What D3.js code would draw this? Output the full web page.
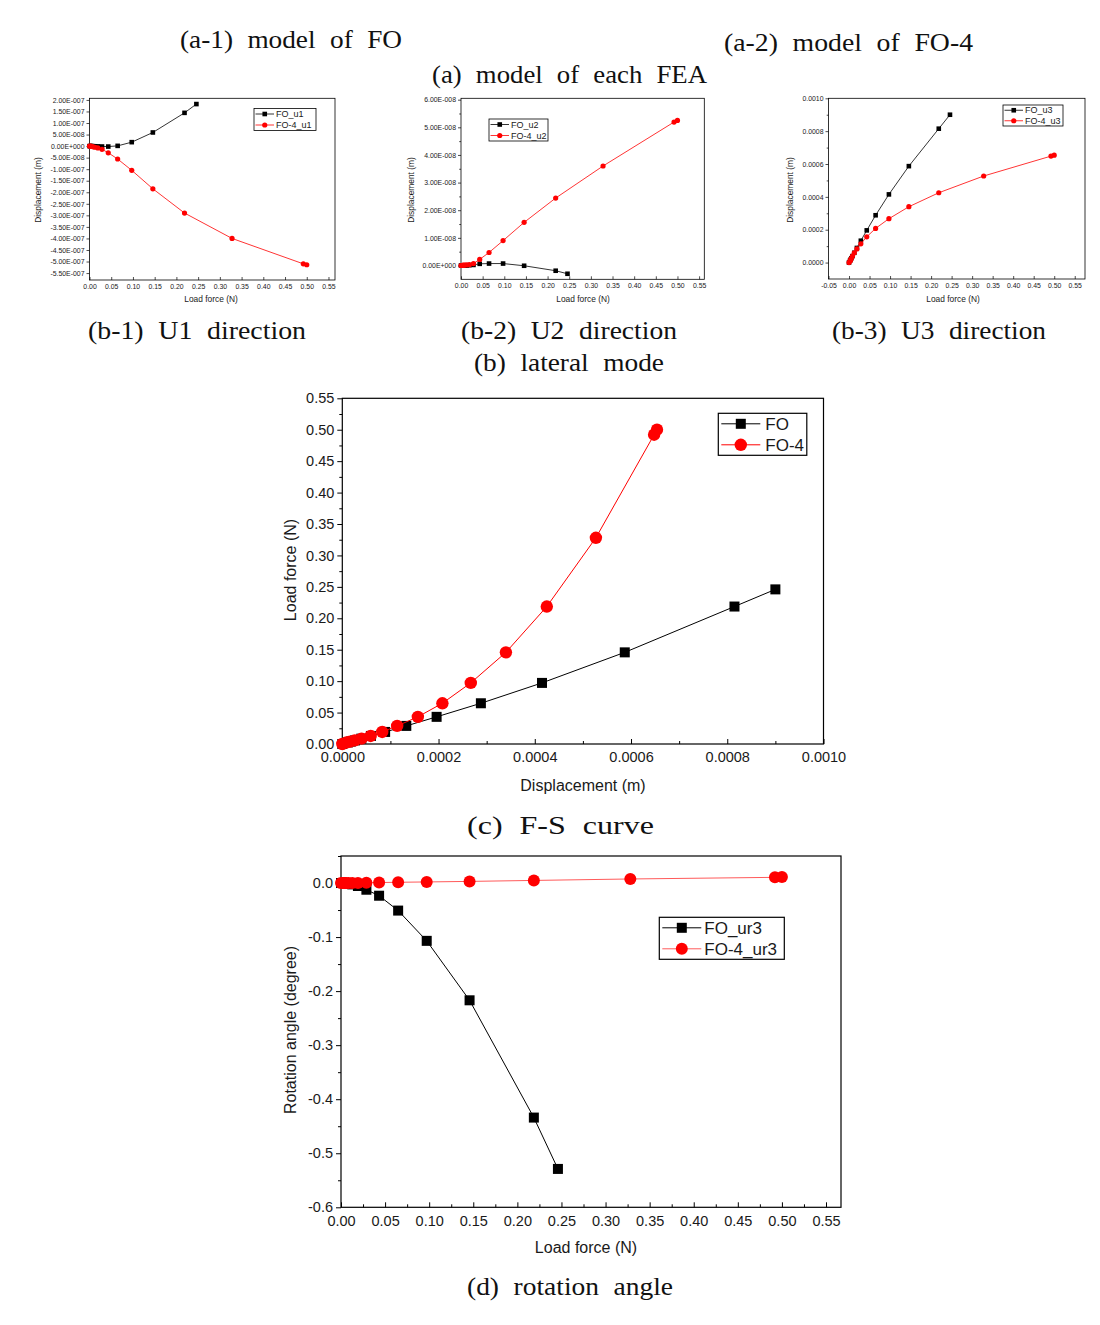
<!DOCTYPE html>
<html>
<head>
<meta charset="utf-8">
<script src="https://cdn.jsdelivr.net/npm/d3@7"></script>
<style>
  html, body { margin: 0; padding: 0; background: #fff; }
  svg { display: block; }
  .cap { font-family: "Liberation Serif", "DejaVu Serif", serif; fill: #111; }
  .ax text { font-family: "Liberation Sans", Arial, sans-serif; fill: #1a1a1a; }
</style>
</head>
<body>
<svg id="chart" width="1100" height="1325"></svg>
<script>
// ---------------- DATA ----------------
const loadsFO  = [0, 0.0025, 0.0038, 0.0057, 0.0085, 0.0128, 0.0192, 0.0288, 0.0432, 0.0648, 0.0972, 0.1458, 0.2187, 0.246];
const loadsFO4 = [0, 0.0025, 0.0038, 0.0057, 0.0085, 0.0128, 0.0192, 0.0288, 0.0432, 0.0648, 0.0972, 0.1458, 0.2187, 0.3281, 0.4921, 0.5];

// (b-1) U1 displacement (m)
const u1FO  = [0, -0.1e-9, -0.2e-9, -0.3e-9, -0.5e-9, -0.8e-9, -1.2e-9, -1.8e-9, -2.0e-9, 1.0e-9, 1.7e-8, 5.9e-8, 1.44e-7, 1.82e-7];
const u1FO4 = [0, -0.5e-9, -1e-9, -1.8e-9, -3e-9, -5e-9, -8e-9, -1.4e-8, -2.9e-8, -5.6e-8, -1.05e-7, -1.85e-7, -2.9e-7, -4.0e-7, -5.1e-7, -5.14e-7];
// (b-2) U2 displacement (m)
const u2FO  = [0, 0, 0, 0, 0, 0, 0.1e-9, 0.2e-9, 6e-10, 7e-10, 7e-10, -1e-10, -1.9e-9, -3e-9];
const u2FO4 = [0, 0, 0.05e-9, 0.1e-9, 0.15e-9, 0.2e-9, 0.3e-9, 0.7e-9, 2.2e-9, 4.7e-9, 9.0e-9, 1.56e-8, 2.44e-8, 3.6e-8, 5.19e-8, 5.25e-8];
// (b-3) U3 displacement (m) -- also used for the F-S curve
const u3FO  = [0, 0.0000116, 0.0000176, 0.0000265, 0.0000395, 0.0000595, 0.000089, 0.000133, 0.000196, 0.000288, 0.000415, 0.000587, 0.000815, 0.0009];
const u3FO4 = [0, 0.000009, 0.000016, 0.000026, 0.00004, 0.000059, 0.000083, 0.000114, 0.000157, 0.000208, 0.000267, 0.00034, 0.000425, 0.000527, 0.000648, 0.000654];
// (d) rotation angle (degree)
const ur3FO  = [0, -0.0001, -0.0002, -0.0005, -0.0012, -0.0025, -0.0055, -0.0124, -0.0235, -0.051, -0.107, -0.217, -0.434, -0.529];
const ur3FO4 = [0, 0, 0, 0, 0, 0, 0.0002, 0.0005, 0.0009, 0.0014, 0.002, 0.003, 0.0048, 0.0075, 0.0105, 0.011];

// tick values
const loadTicks = [0, 0.05, 0.10, 0.15, 0.20, 0.25, 0.30, 0.35, 0.40, 0.45, 0.50, 0.55];
const loadTicksB3 = [-0.05, 0, 0.05, 0.10, 0.15, 0.20, 0.25, 0.30, 0.35, 0.40, 0.45, 0.50, 0.55];
const loadMinor = [0.025, 0.075, 0.125, 0.175, 0.225, 0.275, 0.325, 0.375, 0.425, 0.475, 0.525];
const b1YTicks = [-5.5e-7, -5e-7, -4.5e-7, -4e-7, -3.5e-7, -3e-7, -2.5e-7, -2e-7, -1.5e-7, -1e-7, -5e-8, 0, 5e-8, 1e-7, 1.5e-7, 2e-7];
const b2YTicks = [0, 1e-8, 2e-8, 3e-8, 4e-8, 5e-8, 6e-8];
const b2YMinor = [5e-9, 1.5e-8, 2.5e-8, 3.5e-8, 4.5e-8, 5.5e-8];
const b3YTicks = [0, 0.0002, 0.0004, 0.0006, 0.0008, 0.0010];
const b3YMinor = [0.0001, 0.0003, 0.0005, 0.0007, 0.0009];
const cXTicks = [0, 0.0002, 0.0004, 0.0006, 0.0008, 0.0010];
const cXMinor = [0.0001, 0.0003, 0.0005, 0.0007, 0.0009];
const cYTicks = [0, 0.05, 0.10, 0.15, 0.20, 0.25, 0.30, 0.35, 0.40, 0.45, 0.50, 0.55];
const cYMinor = [0.025, 0.075, 0.125, 0.175, 0.225, 0.275, 0.325, 0.375, 0.425, 0.475, 0.525];
const dYTicks = [-0.6, -0.5, -0.4, -0.3, -0.2, -0.1, 0.0];
const dYMinor = [-0.55, -0.45, -0.35, -0.25, -0.15, -0.05, 0.05];

// ---------------- HELPERS ----------------
const svg = d3.select("#chart");

function sciFmt(v) {
  if (Math.abs(v) < 1e-20) return "0.00E+000";
  let e = Math.floor(Math.log10(Math.abs(v)) + 1e-9);
  let m = v / Math.pow(10, e);
  if (Math.abs(Math.round(m * 100) / 100) >= 10) { e += 1; m = v / Math.pow(10, e); }
  const es = (e < 0 ? "-" : "+") + String(Math.abs(e)).padStart(3, "0");
  return m.toFixed(2) + "E" + es;
}
const fixed = n => v => (Math.abs(v) < 1e-12 ? 0 : v).toFixed(n);

function panel(o) {
  const g = svg.append("g");
  const x = d3.scaleLinear().domain(o.xDomain).range([o.left, o.right]);
  const y = d3.scaleLinear().domain(o.yDomain).range([o.bottom, o.top]);

  const xa = g.append("g").attr("class", "ax").attr("transform", `translate(0,${o.bottom})`)
    .call(d3.axisBottom(x).tickValues(o.xTicks).tickFormat(o.xFmt)
      .tickSizeInner(-o.tick).tickSizeOuter(0).tickPadding(o.xPad));
  xa.selectAll("text").style("font-size", o.tickFont + "px");
  if (o.xMinor) g.append("g").attr("class", "ax").attr("transform", `translate(0,${o.bottom})`)
    .call(d3.axisBottom(x).tickValues(o.xMinor).tickFormat("").tickSizeInner(-o.minor).tickSizeOuter(0));
  const ya = g.append("g").attr("class", "ax").attr("transform", `translate(${o.left},0)`)
    .call(d3.axisLeft(y).tickValues(o.yTicks).tickFormat(o.yFmt)
      .tickSizeInner(o.tick).tickSizeOuter(0).tickPadding(o.yPad));
  ya.selectAll("text").style("font-size", o.tickFont + "px");
  if (o.yMinor) g.append("g").attr("class", "ax").attr("transform", `translate(${o.left},0)`)
    .call(d3.axisLeft(y).tickValues(o.yMinor).tickFormat("").tickSizeInner(o.minor).tickSizeOuter(0));
  g.selectAll(".ax .domain").remove();
  g.selectAll(".ax line").attr("stroke", "#000").attr("stroke-width", o.lw);

  g.append("rect").attr("x", o.left).attr("y", o.top)
    .attr("width", o.right - o.left).attr("height", o.bottom - o.top)
    .attr("fill", "none").attr("stroke", "#000").attr("stroke-width", o.frameW);

  g.append("text").attr("x", o.xTitle[0]).attr("y", o.xTitle[1])
    .attr("text-anchor", "middle").attr("font-family", "Liberation Sans, Arial, sans-serif")
    .attr("font-size", o.titleFont).attr("fill", "#1a1a1a").text(o.xLabel);
  g.append("text").attr("transform", `translate(${o.yTitle[0]},${o.yTitle[1]}) rotate(-90)`)
    .attr("text-anchor", "middle").attr("font-family", "Liberation Sans, Arial, sans-serif")
    .attr("font-size", o.titleFont).attr("fill", "#1a1a1a").text(o.yLabel);

  o.series.forEach(s => {
    const pts = s.xs.map((xv, i) => [xv, s.ys[i]]);
    g.append("path").datum(pts)
      .attr("d", d3.line().x(d => x(d[0])).y(d => y(d[1])))
      .attr("fill", "none").attr("stroke", s.line || s.color).attr("stroke-width", o.lineW);
    drawMarkers(g, pts.map(d => [x(d[0]), y(d[1])]), s.shape, s.color, o.mk);
  });

  const L = o.legend;
  g.append("rect").attr("x", L.x).attr("y", L.y).attr("width", L.w).attr("height", L.h)
    .attr("fill", "#fff").attr("stroke", "#000").attr("stroke-width", o.frameW);
  o.series.forEach((s, i) => {
    const cy = L.y + L.h * (i * 2 + 1) / 4;
    g.append("line").attr("x1", L.x + L.l0).attr("x2", L.x + L.l1).attr("y1", cy).attr("y2", cy)
      .attr("stroke", s.line || s.color).attr("stroke-width", o.lineW);
    drawMarkers(g, [[L.x + (L.l0 + L.l1) / 2, cy]], s.shape, s.color, o.mk);
    g.append("text").attr("x", L.x + L.tx).attr("y", cy).attr("dy", "0.35em")
      .attr("font-family", "Liberation Sans, Arial, sans-serif").attr("font-size", L.font)
      .attr("fill", "#1a1a1a").text(s.name);
  });
  return g;
}

function drawMarkers(g, pts, shape, color, mk) {
  if (shape === "square") {
    g.selectAll(null).data(pts).enter().append("rect")
      .attr("x", d => d[0] - mk.sq / 2).attr("y", d => d[1] - mk.sq / 2)
      .attr("width", mk.sq).attr("height", mk.sq).attr("fill", color);
  } else {
    g.selectAll(null).data(pts).enter().append("circle")
      .attr("cx", d => d[0]).attr("cy", d => d[1]).attr("r", mk.r).attr("fill", color);
  }
}

const BLACK = "#000000", RED = "#ff0000";

const smallCommon = {
  tick: 3, minor: 1.8, lw: 0.7, frameW: 0.8, lineW: 0.8, tickFont: 6.9, titleFont: 8.4,
  xPad: 4, yPad: 2, mk: { sq: 4.6, r: 2.6 }
};

// (b-1)
panel(Object.assign({}, smallCommon, {
  left: 89.5, right: 335, top: 98.3, bottom: 280,
  xDomain: [0, 0.565], yDomain: [-5.8e-7, 2.07e-7],
  xTicks: loadTicks, yTicks: b1YTicks, xFmt: fixed(2), yFmt: sciFmt,
  xLabel: "Load force (N)", yLabel: "Displacement (m)", xTitle: [211, 302], yTitle: [41, 190],
  series: [
    { name: "FO_u1", xs: loadsFO, ys: u1FO, color: BLACK, shape: "square" },
    { name: "FO-4_u1", xs: loadsFO4, ys: u1FO4, color: RED, shape: "circle" }
  ],
  legend: { x: 254, y: 108.5, w: 62, h: 22, l0: 1.5, l1: 20, tx: 22, font: 9 }
}));

// (b-2)
panel(Object.assign({}, smallCommon, {
  left: 461, right: 704.3, top: 98.3, bottom: 279.3,
  xDomain: [0, 0.562], yDomain: [-5e-9, 6.05e-8],
  xTicks: loadTicks, yTicks: b2YTicks, yMinor: b2YMinor, xFmt: fixed(2), yFmt: sciFmt,
  xLabel: "Load force (N)", yLabel: "Displacement (m)", xTitle: [583, 302], yTitle: [414, 190],
  series: [
    { name: "FO_u2", xs: loadsFO, ys: u2FO, color: BLACK, shape: "square" },
    { name: "FO-4_u2", xs: loadsFO4, ys: u2FO4, color: RED, shape: "circle" }
  ],
  legend: { x: 489, y: 119, w: 59, h: 22, l0: 1.5, l1: 20, tx: 22, font: 9 }
}));

// (b-3)
panel(Object.assign({}, smallCommon, {
  left: 828.5, right: 1085, top: 98.3, bottom: 279,
  xDomain: [-0.05, 0.575], yDomain: [-0.0001, 0.001],
  xTicks: loadTicksB3, yTicks: b3YTicks, yMinor: b3YMinor, xFmt: fixed(2), yFmt: fixed(4),
  xLabel: "Load force (N)", yLabel: "Displacement (m)", xTitle: [953, 302], yTitle: [793, 190],
  series: [
    { name: "FO_u3", xs: loadsFO, ys: u3FO, color: BLACK, shape: "square" },
    { name: "FO-4_u3", xs: loadsFO4, ys: u3FO4, color: RED, shape: "circle" }
  ],
  legend: { x: 1003, y: 105, w: 60, h: 21, l0: 1.5, l1: 20, tx: 22, font: 9 }
}));

// (c) F-S curve
panel({
  tick: 5, minor: 3, lw: 1, frameW: 1.2, lineW: 1, tickFont: 14.5, titleFont: 16,
  xPad: 8, yPad: 3, mk: { sq: 10, r: 6.2 },
  left: 342.3, right: 823.5, top: 398.3, bottom: 744,
  xDomain: [0, 0.001], yDomain: [0, 0.55],
  xTicks: cXTicks, xMinor: cXMinor, yTicks: cYTicks, yMinor: cYMinor, xFmt: fixed(4), yFmt: fixed(2),
  xLabel: "Displacement (m)", yLabel: "Load force (N)", xTitle: [583, 791], yTitle: [296, 570],
  series: [
    { name: "FO", xs: u3FO, ys: loadsFO, color: BLACK, shape: "square" },
    { name: "FO-4", xs: u3FO4, ys: loadsFO4, color: RED, shape: "circle" }
  ],
  legend: { x: 718.3, y: 413.3, w: 88.5, h: 42, l0: 3, l1: 42, tx: 47, font: 17 }
});

// (d) rotation angle
panel({
  tick: 5, minor: 3, lw: 1, frameW: 1.2, lineW: 1, tickFont: 14.5, titleFont: 16,
  xPad: 8, yPad: 3, mk: { sq: 10, r: 6 },
  left: 341, right: 841, top: 856, bottom: 1207.3,
  xDomain: [0, 0.567], yDomain: [-0.6, 0.05],
  xTicks: loadTicks, xMinor: loadMinor, yTicks: dYTicks, yMinor: dYMinor, xFmt: fixed(2), yFmt: fixed(1),
  xLabel: "Load force (N)", yLabel: "Rotation angle (degree)", xTitle: [586, 1253], yTitle: [296, 1030],
  series: [
    { name: "FO_ur3", xs: loadsFO, ys: ur3FO, color: BLACK, shape: "square" },
    { name: "FO-4_ur3", xs: loadsFO4, ys: ur3FO4, color: RED, line: "#ff5a5a", shape: "circle" }
  ],
  legend: { x: 659.3, y: 917.3, w: 125, h: 42, l0: 3, l1: 42, tx: 45, font: 17 }
});

// ---------------- CAPTIONS ----------------
const captions = [
  { t: "(a-1) model of FO", x: 180, y: 48, w: 222 },
  { t: "(a-2) model of FO-4", x: 724, y: 51, w: 249 },
  { t: "(a) model of each FEA", x: 432, y: 83, w: 275 },
  { t: "(b-1) U1 direction", x: 88, y: 339, w: 218 },
  { t: "(b-2) U2 direction", x: 461, y: 339, w: 216 },
  { t: "(b-3) U3 direction", x: 832, y: 339, w: 214 },
  { t: "(b) lateral mode", x: 474, y: 371, w: 190 },
  { t: "(c) F-S curve", x: 467, y: 834, w: 187 },
  { t: "(d) rotation angle", x: 467, y: 1295, w: 206 }
];
svg.selectAll("text.cap").data(captions).enter().append("text")
  .attr("class", "cap").attr("x", d => d.x).attr("y", d => d.y)
  .attr("font-size", 25).style("word-spacing", "7px")
  .attr("textLength", d => d.w).attr("lengthAdjust", "spacingAndGlyphs")
  .text(d => d.t);
</script>
</body>
</html>
